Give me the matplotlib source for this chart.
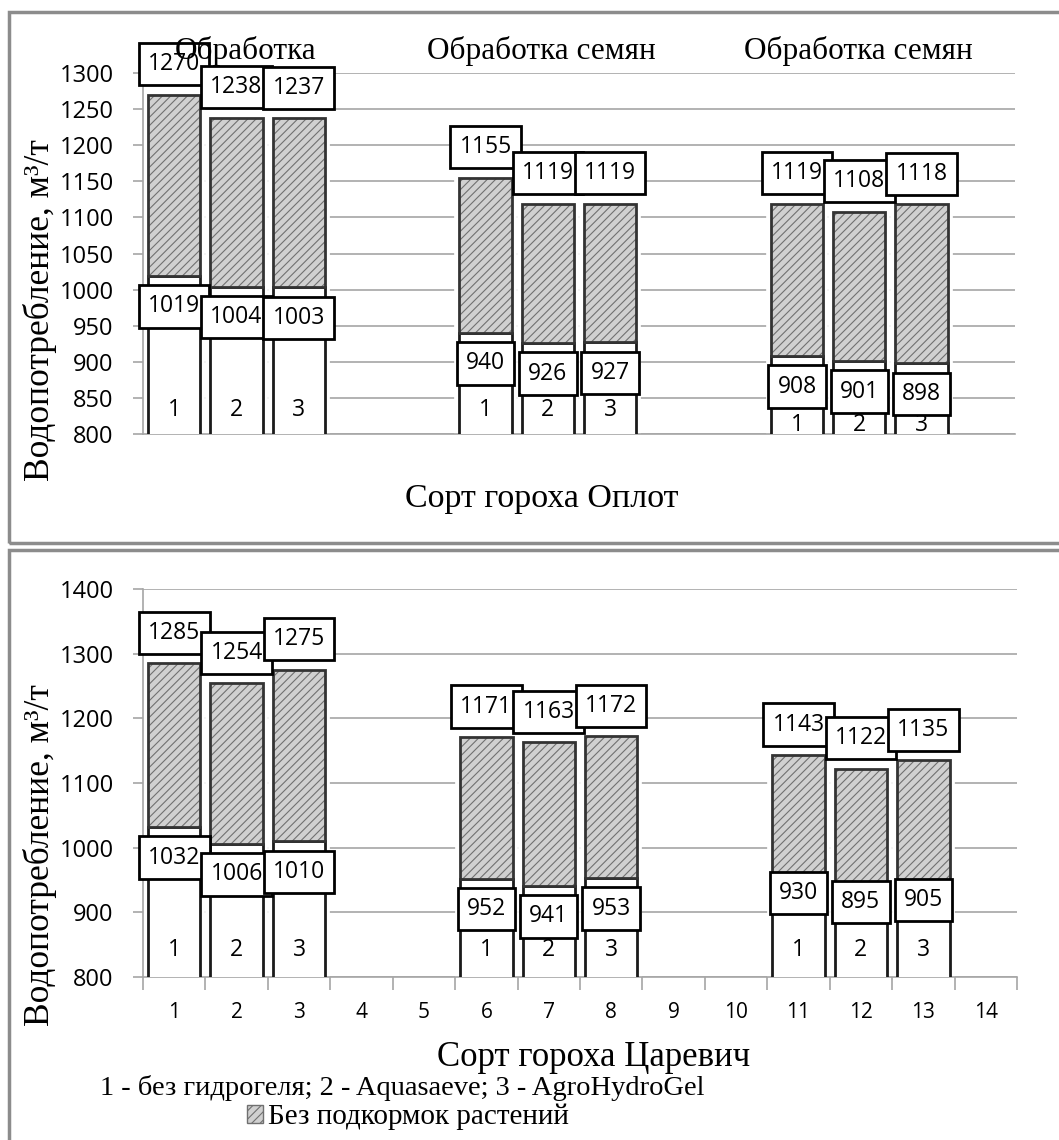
import matplotlib
matplotlib.use("Agg")
import matplotlib.pyplot as plt
from matplotlib.patches import Rectangle, Patch
import numpy as np

W, H = 1059, 1140

# data
positions = [1, 2, 3, 6, 7, 8, 11, 12, 13]
variants = ["1", "2", "3", "1", "2", "3", "1", "2", "3"]
oplot_lower = [1019, 1004, 1003, 940, 926, 927, 908, 901, 898]
oplot_upper = [1270, 1238, 1237, 1155, 1119, 1119, 1119, 1108, 1118]
tsar_lower = [1032, 1006, 1010, 952, 941, 953, 930, 895, 905]
tsar_upper = [1285, 1254, 1275, 1171, 1163, 1172, 1143, 1122, 1135]
group_titles = ["Обработка", "Обработка семян", "Обработка семян"]
group_x = [2.15, 6.9, 11.98]
x_ticks = list(range(1, 15))

SANS = "Open Sans"
SERIF = "Liberation Serif"
GRID = "#a6a6a6"
HATCH_FC = "#d0d0d0"
HATCH_EC = "#707070"

plt.rcParams["hatch.linewidth"] = 0.8

fig = plt.figure(figsize=(W / 100, H / 100), dpi=100)


def px_rect(x0, y0, x1, y1):
    # pixel box -> figure fraction [left, bottom, width, height]
    return [x0 / W, 1 - y1 / H, (x1 - x0) / W, (y1 - y0) / H]


# panel frames
for y0, y1 in [(12, 543), (550, 1160)]:
    fig.patches.append(Rectangle((9 / W, 1 - y1 / H), (1080 - 9) / W, (y1 - y0) / H,
                                 transform=fig.transFigure, fill=False,
                                 edgecolor="#8c8c8c", lw=2.5))


def draw_panel(ax, lower, upper, ymin, ymax, step, digit_y, low_off):
    ax.set_xlim(0.5, 14.5)
    ax.set_ylim(ymin, ymax)
    ax.set_yticks(np.arange(ymin, ymax + 1, step))
    ax.grid(axis="y", color=GRID, lw=1.2)
    ax.set_axisbelow(True)
    for s in ["top", "right"]:
        ax.spines[s].set_visible(False)
    for s in ["left", "bottom"]:
        ax.spines[s].set_color(GRID)
        ax.spines[s].set_linewidth(1.2)
    ax.tick_params(axis="y", length=7, color=GRID, width=1.2, pad=14, labelsize=17)
    for lab in ax.get_yticklabels():
        lab.set_fontfamily(SANS)

    w = 0.84
    hatch_h = [u - l for u, l in zip(upper, lower)]
    # white halo around the bars
    ax.bar(positions, upper, w, color="white", edgecolor="white", lw=7, zorder=2)
    ax.bar(positions, lower, w, color="white", edgecolor="#1a1a1a", lw=2, zorder=3)
    ax.bar(positions, hatch_h, w, bottom=lower, color=HATCH_FC, edgecolor=HATCH_EC,
           hatch="////", lw=0, zorder=3)
    ax.bar(positions, hatch_h, w, bottom=lower, fill=False, edgecolor="#333333", lw=2, zorder=4)

    for x, v, yy in zip(positions, variants, digit_y):
        ax.text(x, yy, v, ha="center", va="center", fontsize=16.5, family=SANS, zorder=5)

    z = 10
    for x, up in zip(positions, upper):
        ax.annotate(str(up), (x, up), xytext=(0, 22), textcoords="offset points",
                    ha="center", va="center", fontsize=16.5, family=SANS, zorder=z,
                    annotation_clip=False,
                    bbox=dict(boxstyle="square,pad=0.4", fc="white", ec="black", lw=2))
        z += 1
    for x, lo, off in zip(positions, lower, low_off):
        ax.annotate(str(lo), (x, lo), xytext=(0, off), textcoords="offset points",
                    ha="center", va="center", fontsize=16.5, family=SANS, zorder=z,
                    annotation_clip=False,
                    bbox=dict(boxstyle="square,pad=0.4", fc="white", ec="black", lw=2))
        z += 1


# top panel: Оплот
ax1 = fig.add_axes(px_rect(143, 73, 1015, 434))
draw_panel(ax1, oplot_lower, oplot_upper, 800, 1300, 50,
           [833] * 6 + [812] * 3, [-22] * 9)
ax1.set_xticks([])
for gx, t in zip(group_x, group_titles):
    ax1.text(gx, 1330, t, ha="center", va="center", fontsize=22.5, family=SERIF,
             zorder=40, clip_on=False)
fig.text(40 / W, 1 - 310 / H, "Водопотребление, м³/т", rotation=90, ha="center",
         va="center", fontsize=25.5, family=SERIF)
fig.text(542 / W, 1 - 499 / H, "Сорт гороха Оплот", ha="center", va="center",
         fontsize=24.5, family=SERIF)

# bottom panel: Царевич
ax2 = fig.add_axes(px_rect(143, 589, 1017, 977))
draw_panel(ax2, tsar_lower, tsar_upper, 800, 1400, 100, [842] * 9,
           [-22] * 6 + [0, 10, 6.5])
ax2.set_xticks(x_ticks)
ax2.set_xticks(np.arange(0.5, 15, 1), minor=True)
ax2.tick_params(axis="x", which="major", length=0, pad=18, labelsize=15)
ax2.tick_params(axis="x", which="minor", length=9, color=GRID, width=1.2)
for lab in ax2.get_xticklabels():
    lab.set_fontfamily(SANS)

fig.text(40 / W, 1 - 855 / H, "Водопотребление, м³/т", rotation=90, ha="center",
         va="center", fontsize=25.5, family=SERIF)
fig.text(594 / W, 1 - 1057 / H, "Сорт гороха Царевич", ha="center", va="center",
         fontsize=25, family=SERIF)
fig.text(402 / W, 1 - 1088 / H, "1 - без гидрогеля; 2 - Aquasaeve; 3 - AgroHydroGel",
         ha="center", va="center", fontsize=20.5, family=SERIF)
fig.legend(handles=[Patch(facecolor=HATCH_FC, edgecolor=HATCH_EC, hatch="////")],
           labels=["Без подкормок растений"], loc="center",
           bbox_to_anchor=(408 / W, 1 - 1117 / H), frameon=False,
           prop=dict(family=SERIF, size=21), handlelength=0.55, handleheight=0.55,
           handletextpad=0.15, borderpad=0)

fig.savefig("out.png", dpi=100)
